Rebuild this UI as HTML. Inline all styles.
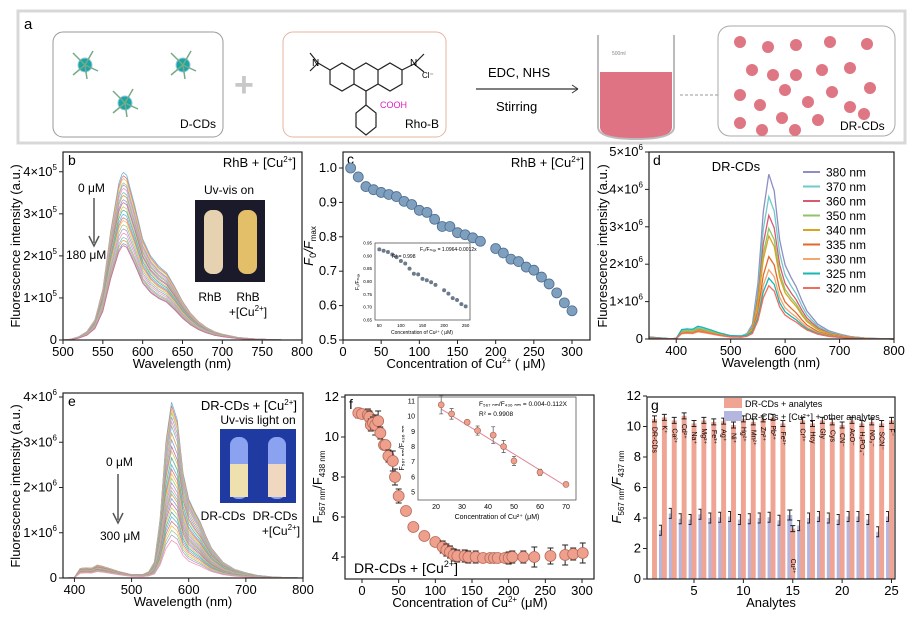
<!DOCTYPE html>
<html><head><meta charset="utf-8"><style>
body{margin:0;background:#fff;}
svg{display:block;font-family:"Liberation Sans",Arial,sans-serif;}
</style></head><body>
<svg id="fig" width="911" height="621" viewBox="0 0 911 621" xmlns="http://www.w3.org/2000/svg">
<!-- Panel a -->
<g>
<rect x="18" y="11" width="887" height="132" fill="#fff" stroke="#d8d8d8" stroke-width="3"/>
<text x="24" y="29" font-size="15">a</text>
<rect x="53" y="32" width="170" height="105" rx="10" fill="#fff" stroke="#999"/>
<g fill="#1aa6a6" stroke="#9cd" stroke-width="1">
<circle cx="85" cy="65" r="7"/><circle cx="183" cy="65" r="7"/><circle cx="125" cy="103" r="7"/></g>
<g stroke="#7a8" stroke-width="1.5">
<path d="M85 65 l-12 -12 M85 65 l8 -14 M85 65 l13 6 M85 65 l-12 10 M85 65 l2 14"/>
<path d="M183 65 l-12 -12 M183 65 l8 -14 M183 65 l13 6 M183 65 l-12 10 M183 65 l2 14"/>
<path d="M125 103 l-12 -12 M125 103 l8 -14 M125 103 l13 6 M125 103 l-12 10 M125 103 l2 14"/></g>
<text x="180" y="128" font-size="12">D-CDs</text>
<text x="234" y="96" font-size="34" fill="#c8c8c8" font-weight="bold">+</text>
<rect x="283" y="32" width="163" height="105" rx="10" fill="#fff" stroke="#e5b59f"/>
<g fill="none" stroke="#222" stroke-width="1.2">
<path d="M330 70 l12 -7 l12 7 l0 14 l-12 7 l-12 -7z M354 70 l12 -7 l12 7 l0 14 l-12 7 l-12 -7z M378 70 l12 -7 l12 7 l0 14 l-12 7 l-12 -7z"/>
<path d="M318 63 l12 7 M318 63 l-8 -10 M318 63 l-8 8 M402 70 l12 -6 l10 -10 M414 64 l10 8"/>
<path d="M366 91 l0 14 M366 105 l-10 8 l0 14 l10 8 l10 -8 l0 -14z"/></g>
<text x="312" y="66" font-size="10">N</text><text x="410" y="66" font-size="10">N</text><text x="422" y="78" font-size="8">Cl⁻</text>
<text x="380" y="108" font-size="9" fill="#e020c0">COOH</text>
<text x="405" y="128" font-size="12">Rho-B</text>
<text x="488" y="77" font-size="13">EDC, NHS</text>
<line x1="476" y1="89" x2="578" y2="89" stroke="#333" stroke-width="1.2"/><path d="M578 89 l-6 -4 M578 89 l-6 4" stroke="#333"/>
<text x="496" y="111" font-size="13">Stirring</text>
<path d="M600 72 l0 55 q0 12 36 12 q36 0 36 -12 l0 -55z" fill="#dc6477" opacity="0.9"/>
<path d="M598 35 l0 92 q0 12 38 12 q38 0 38 -12 l0 -92" fill="none" stroke="#bbb" stroke-width="2"/>
<text x="612" y="55" font-size="5" fill="#888">500ml</text>
<line x1="680" y1="95" x2="718" y2="95" stroke="#999" stroke-dasharray="3,2"/>
<rect x="718" y="26" width="177" height="110" rx="12" fill="#fff" stroke="#aaa"/>
<g fill="#df7683">
<circle cx="740" cy="42" r="6"/><circle cx="768" cy="47" r="6"/><circle cx="796" cy="45" r="6"/><circle cx="830" cy="42" r="6"/><circle cx="867" cy="44" r="6"/>
<circle cx="752" cy="70" r="6"/><circle cx="773" cy="75" r="6"/><circle cx="796" cy="75" r="6"/><circle cx="822" cy="70" r="6"/><circle cx="850" cy="68" r="6"/>
<circle cx="740" cy="95" r="6"/><circle cx="785" cy="90" r="6"/><circle cx="832" cy="92" r="6"/><circle cx="870" cy="88" r="6"/><circle cx="760" cy="105" r="6"/><circle cx="808" cy="102" r="6"/><circle cx="850" cy="107" r="6"/>
<circle cx="740" cy="123" r="6"/><circle cx="782" cy="118" r="6"/><circle cx="818" cy="120" r="6"/><circle cx="864" cy="114" r="6"/><circle cx="762" cy="130" r="6"/><circle cx="795" cy="130" r="6"/></g>
<text x="840" y="130" font-size="12">DR-CDs</text>
</g>
<g id="plots"></g>
</svg>
<script>
// ---------- DATA ----------
const bWave=[500,510,520,530,540,550,560,570,575,580,590,600,610,620,630,640,650,660,670,680,690,700,720,740,760,780,800];
const bProfile=[0,0.005,0.02,0.05,0.12,0.3,0.65,0.93,1.0,0.98,0.8,0.6,0.5,0.44,0.4,0.32,0.23,0.16,0.11,0.075,0.05,0.035,0.015,0.007,0.003,0,0];
const bPeaks=[4.0,3.92,3.85,3.75,3.7,3.62,3.52,3.45,3.35,3.28,3.18,3.1,3.0,2.92,2.85,2.75,2.65,2.55,2.45,2.38,2.3,2.25];
const cConc=[10,20,30,40,50,60,70,80,90,100,110,120,130,140,150,160,170,180,200,210,220,230,240,250,260,270,280,290,300];
const cRatio=[1.0,0.974,0.946,0.937,0.929,0.923,0.917,0.903,0.894,0.877,0.871,0.851,0.83,0.83,0.812,0.806,0.797,0.787,0.766,0.753,0.735,0.728,0.712,0.703,0.683,0.663,0.637,0.608,0.585];
const cInsetConc=[50,60,70,80,90,100,110,120,130,140,150,160,170,180,200,210,220,230,240,250];
const cInsetRatio=[0.925,0.92,0.915,0.905,0.895,0.88,0.87,0.85,0.83,0.828,0.81,0.805,0.797,0.787,0.766,0.753,0.735,0.728,0.712,0.703];
const dWave=[350,390,400,410,420,430,440,450,460,480,500,520,530,540,550,560,570,580,590,600,610,620,630,640,660,680,700,720,750,800];
const dPeakProfile=[0,0,0,0,0,0,0,0,0,0,0,0.005,0.02,0.08,0.33,0.77,1.0,0.9,0.6,0.45,0.38,0.32,0.24,0.17,0.09,0.05,0.03,0.015,0.005,0];
const dBlueProfile=[0.15,0.02,0.05,0.7,0.75,0.72,0.95,0.85,0.72,0.45,0.25,0.2,0.2,0.15,0.1,0.05,0.02,0.01,0,0,0,0,0,0,0,0,0,0,0,0];
const dLabels=["380 nm","370 nm","360 nm","350 nm","340 nm","335 nm","330 nm","325 nm","320 nm"];
const dPeaks=[4.4,3.8,3.3,2.95,2.75,2.2,1.85,1.62,1.42];
const dBlue=[0.3,0.32,0.28,0.3,0.25,0.22,0.2,0.36,0.22];
const dColors=["#8e8ec4","#6fcaca","#d85a70","#8cc66b","#d9a520","#e2692a","#f3a66e","#1ab5b5","#f26b5b"];
const ePeaks=[3.88,3.8,3.72,3.65,3.55,3.45,3.35,3.2,3.05,2.9,2.8,2.65,2.5,2.4,2.3,2.2,2.1,2.0,1.92,1.85,1.75,1.65,1.55,1.45,1.35,1.25,1.15,1.05,0.95,0.83];
const eBlue=[0.3,0.3,0.29,0.29,0.28,0.28,0.27,0.27,0.26,0.26,0.25,0.25,0.24,0.24,0.23,0.23,0.22,0.22,0.21,0.21,0.2,0.2,0.19,0.19,0.18,0.18,0.17,0.17,0.16,0.15];
const fConc=[-5,0,8,10,12,15,18,22,25,30,32,36,42,45,50,60,70,85,100,110,115,120,125,130,140,145,155,165,175,180,185,195,200,205,220,235,257,277,288,301];
const fRatio=[11.2,11.15,11.1,11.0,10.6,10.7,10.6,10.8,10.2,9.6,9.6,9.05,8.8,8.0,7.05,6.3,5.5,5.05,4.75,4.5,4.35,4.25,4.1,4.05,4.05,4.0,4.0,3.95,3.95,3.95,3.95,3.95,3.95,4.0,4.0,4.0,4.05,4.1,4.15,4.2];
const fErr=[0.25,0.2,0.3,0.3,0.3,0.3,0.5,0.5,0.3,0.1,0.1,0.3,0.5,0.4,0.35,0.15,0.2,0.1,0.1,0.3,0.3,0.3,0.3,0.3,0.3,0.3,0.3,0.2,0.1,0.1,0.1,0.2,0.3,0.3,0.3,0.5,0.4,0.5,0.3,0.5];
const fiConc=[22,26,32,36,42,46,50,60,70];
const fiRatio=[10.75,10.15,9.6,9.05,8.75,8.0,7.05,6.3,5.5];
const fiErr=[0.6,0.35,0.1,0.3,0.55,0.4,0.3,0.2,0.15];
const gPink=[10.5,10.6,10.4,10.7,10.2,10.4,10.3,10.35,10.1,10.5,10.3,10.5,10.6,10.2,3.3,10.4,10.2,10.4,10.3,10.1,10.4,10.2,10.3,10.2,10.4];
const gBlue=[3.2,4.3,3.95,3.9,4.25,4.0,4.05,4.1,3.9,3.95,4.0,4.05,3.85,4.2,3.5,4.0,4.1,4.0,3.9,4.1,4.1,3.9,3.1,4.1];
const gLabels=["DR-CDs","K⁺","Ca²⁺","Cd²⁺","Na⁺","Mg²⁺","Fe³⁺","Ag⁺","Ni⁺","Hg²⁺","Mn²⁺","Zn²⁺","Pb²⁺","Fe²⁺","Cu²⁺","Cr³⁺","Hcy","Gly","Cys","CN⁻","AcO⁻","H₂PO₄⁻","NO₃⁻","SCN⁻","F⁻"];
const specColors=["#6ab7e0","#e07a7a","#f0c060","#9ad08a","#b79ad6","#f09ab0","#70c8c8","#e0a050","#8aa0e0","#d07090","#c0d070","#60b0a0"];

// ---------- HELPERS ----------
const NS="http://www.w3.org/2000/svg";
const root=document.getElementById('plots');
function mk(tag,attrs,parent,text){const e=document.createElementNS(NS,tag);for(const k in attrs)e.setAttribute(k,attrs[k]);if(text!==undefined)e.textContent=text;(parent||root).appendChild(e);return e;}
function lin(d0,d1,r0,r1){return v=>r0+(v-d0)*(r1-r0)/(d1-d0);}
function interp(xs,ys,x){if(x<=xs[0])return ys[0];for(let i=1;i<xs.length;i++){if(x<=xs[i]){const t=(x-xs[i-1])/(xs[i]-xs[i-1]);return ys[i-1]+t*(ys[i]-ys[i-1]);}}return ys[ys.length-1];}
function frame(g,x0,y0,x1,y1){mk('rect',{x:x0,y:y0,width:x1-x0,height:y1-y0,fill:'none',stroke:'#222','stroke-width':1.2},g);}
function xticks(g,vals,sx,y1,fs,minor){vals.forEach(v=>{const x=sx(v);mk('line',{x1:x,y1:y1,x2:x,y2:y1+4,stroke:'#222'},g);const t=mk('text',{x:x,y:y1+16,'font-size':fs||13,'text-anchor':'middle'},g,String(v));});}
function yticks(g,vals,labels,sy,x0,fs){vals.forEach((v,i)=>{const y=sy(v);mk('line',{x1:x0-4,y1:y,x2:x0,y2:y,stroke:'#222'},g);const t=mk('text',{x:x0-6,y:y+4,'font-size':fs||13,'text-anchor':'end'},g);
 const L=labels[i];if(typeof L==='string'){t.textContent=L;}else{t.textContent=L[0]+'×10';mk('tspan',{'font-size':8,dy:-6},t,L[1]);}});}
function pathFrom(pts){return 'M'+pts.map(p=>p[0].toFixed(1)+' '+p[1].toFixed(1)).join(' L');}

// ---------- PANEL B ----------
(function(){
const g=mk('g',{});
const sx=lin(500,800,63,302), sy=lin(0,4.47,340,152);
const clip=mk('clipPath',{id:'cb'},g);mk('rect',{x:63,y:152,width:239,height:188},clip);
const cg=mk('g',{'clip-path':'url(#cb)'},g);
bPeaks.forEach((p,i)=>{const pts=[];for(let w=500;w<=800;w+=2)pts.push([sx(w),sy(p*interp(bWave,bProfile,w))]);
 const e=mk('path',{d:pathFrom(pts),fill:'none',stroke:specColors[i%specColors.length],'stroke-width':0.8},cg);
 });
frame(g,63,152,302,340);
xticks(g,[500,550,600,650,700,750,800],sx,340);
yticks(g,[0,1,2,3,4],['0',['1','5'],['2','5'],['3','5'],['4','5']],sy,63);
mk('text',{x:182,y:368,'font-size':13,'text-anchor':'middle'},g,'Wavelength (nm)');
mk('text',{x:0,y:0,'font-size':13,'text-anchor':'middle',transform:'translate(20,246) rotate(-90)'},g,'Fluorescence intensity (a.u.)');
mk('text',{x:68,y:165,'font-size':14},g,'b');
const t=mk('text',{x:296,y:167,'font-size':13,'text-anchor':'end'},g,'RhB + [Cu');mk('tspan',{'font-size':8,dy:-5},t,'2+');mk('tspan',{dy:5},t,']');
mk('text',{x:78,y:192,'font-size':12},g,'0 μM');
mk('line',{x1:94,y1:198,x2:94,y2:243,stroke:'#555','stroke-width':1.5},g);mk('path',{d:'M89 236 L94 246 L99 236',fill:'none',stroke:'#555','stroke-width':1.5},g);
mk('text',{x:66,y:259,'font-size':12},g,'180 μM');
mk('text',{x:229,y:194,'font-size':12,'text-anchor':'middle'},g,'Uv-vis on');
const ph=mk('g',{},g);
mk('rect',{x:195,y:200,width:70,height:82,fill:'#1a1a2a'},ph);
mk('rect',{x:204,y:210,width:19,height:64,rx:8,fill:'#e6d2b0'},ph);mk('rect',{x:238,y:210,width:19,height:64,rx:8,fill:'#e3bf6a'},ph);
mk('text',{x:210,y:301,'font-size':12,'text-anchor':'middle'},g,'RhB');
mk('text',{x:248,y:301,'font-size':12,'text-anchor':'middle'},g,'RhB');
const t2=mk('text',{x:248,y:316,'font-size':12,'text-anchor':'middle'},g,'+[Cu');mk('tspan',{'font-size':8,dy:-5},t2,'2+');mk('tspan',{dy:5},t2,']');
})();

// ---------- PANEL C ----------
(function(){
const g=mk('g',{});
const sx=lin(0,300,343,572), sy=lin(0.5,1.0,340,168);
frame(g,343,152,590,340);
xticks(g,[0,50,100,150,200,250,300],sx,340);
yticks(g,[0.5,0.6,0.7,0.8,0.9,1.0],['0.5','0.6','0.7','0.8','0.9','1.0'],sy,343);
const xt=mk('text',{x:466,y:368,'font-size':13,'text-anchor':'middle'},g,'Concentration of Cu');mk('tspan',{'font-size':8,dy:-5},xt,'2+');mk('tspan',{dy:5},xt,' ( μM)');
const yt=mk('text',{'font-size':13,'text-anchor':'middle',transform:'translate(313,246) rotate(-90)'},g);mk('tspan',{'font-style':'italic'},yt,'F');mk('tspan',{'font-size':9,dy:3},yt,'0');mk('tspan',{dy:-3,'font-style':'italic'},yt,'/F');mk('tspan',{'font-size':8,dy:3},yt,'max');
mk('text',{x:347,y:164,'font-size':14},g,'c');
const t=mk('text',{x:584,y:167,'font-size':13,'text-anchor':'end'},g,'RhB + [Cu');mk('tspan',{'font-size':8,dy:-5},t,'2+');mk('tspan',{dy:5},t,']');
cConc.forEach((c,i)=>{const e=mk('circle',{cx:sx(c),cy:sy(cRatio[i]),r:5,fill:'#7f9fbf',stroke:'#4d6e90','stroke-width':0.8},g);});
// inset
const ix=lin(40,260,375,470), iy=lin(0.65,0.95,320,243);
const ig=mk('g',{},g);
mk('rect',{x:375,y:243,width:95,height:77,fill:'#fff',stroke:'#555','stroke-width':0.8},ig);
cInsetConc.forEach((c,i)=>{const e=mk('circle',{cx:ix(c),cy:iy(cInsetRatio[i]),r:2,fill:'#6c7a8c'},ig);});
[50,100,150,200,250].forEach(v=>mk('text',{x:ix(v),y:327,'font-size':4.5,'text-anchor':'middle'},ig,String(v)));
[0.65,0.7,0.75,0.8,0.85,0.9,0.95].forEach(v=>mk('text',{x:372,y:iy(v)+1.5,'font-size':4.5,'text-anchor':'end'},ig,v.toFixed(2)));
mk('text',{x:422,y:334,'font-size':5,'text-anchor':'middle'},ig,'Concentration of Cu²⁺ ( μM)');
mk('text',{x:420,y:251,'font-size':5},ig,'F₀/Fₘₐₓ = 1.0964-0.0012x');
mk('text',{x:392,y:258,'font-size':5},ig,'R² = 0.998');
mk('text',{'font-size':5,transform:'translate(359,290) rotate(-90)'},ig,'F₀/Fₘₐₓ');
})();

// ---------- PANEL D ----------
(function(){
const g=mk('g',{});
const sx=lin(350,800,649,894), sy=lin(0,5,339,152);
dPeaks.forEach((p,i)=>{const pts=[];for(let w=350;w<=800;w+=2)pts.push([sx(w),sy(p*interp(dWave,dPeakProfile,w)+dBlue[i]*interp(dWave,dBlueProfile,w))]);
 const e=mk('path',{d:pathFrom(pts),fill:'none',stroke:dColors[i],'stroke-width':1.3},g);});
frame(g,649,152,894,339);
xticks(g,[400,500,600,700,800],sx,339);
yticks(g,[0,1,2,3,4,5],['0',['1','6'],['2','6'],['3','6'],['4','6'],['5','6']],sy,649);
mk('text',{x:771,y:367,'font-size':13,'text-anchor':'middle'},g,'Wavelength (nm)');
mk('text',{'font-size':13,'text-anchor':'middle',transform:'translate(607,246) rotate(-90)'},g,'Fluorescence intensity (a.u.)');
mk('text',{x:653,y:165,'font-size':14},g,'d');
mk('text',{x:736,y:171,'font-size':13,'text-anchor':'middle'},g,'DR-CDs');
dLabels.forEach((l,i)=>{const y=172+i*14.5;const lg=mk('g',{},g);
 mk('line',{x1:803,y1:y,x2:820,y2:y,stroke:dColors[i],'stroke-width':2},lg);mk('text',{x:826,y:y+4.5,'font-size':12},lg,l);});
})();

// ---------- PANEL E ----------
(function(){
const g=mk('g',{});
const sx=lin(380,800,63,303), sy=lin(0,4,578,397);
ePeaks.forEach((p,i)=>{const pts=[];for(let w=390;w<=800;w+=2)pts.push([sx(w),sy(p*interp(dWave,dPeakProfile,w)+eBlue[i]*interp(dWave,dBlueProfile,w))]);
 const e=mk('path',{d:pathFrom(pts),fill:'none',stroke:specColors[i%specColors.length],'stroke-width':0.8},g);});
frame(g,63,393,303,578);
xticks(g,[400,500,600,700,800],sx,578);
yticks(g,[0,1,2,3,4],['0',['1','6'],['2','6'],['3','6'],['4','6']],sy,63);
mk('text',{x:183,y:606,'font-size':13,'text-anchor':'middle'},g,'Wavelength (nm)');
mk('text',{'font-size':13,'text-anchor':'middle',transform:'translate(20,486) rotate(-90)'},g,'Fluorescence intensity (a.u.)');
mk('text',{x:68,y:406,'font-size':14},g,'e');
const t=mk('text',{x:297,y:410,'font-size':13,'text-anchor':'end'},g,'DR-CDs + [Cu');mk('tspan',{'font-size':8,dy:-5},t,'2+');mk('tspan',{dy:5},t,']');
mk('text',{x:106,y:466,'font-size':12},g,'0 μM');
mk('line',{x1:118,y1:474,x2:118,y2:520,stroke:'#555','stroke-width':1.5},g);mk('path',{d:'M113 513 L118 523 L123 513',fill:'none',stroke:'#555','stroke-width':1.5},g);
mk('text',{x:100,y:540,'font-size':12},g,'300 μM');
mk('text',{x:258,y:424,'font-size':12,'text-anchor':'middle'},g,'Uv-vis light on');
const ph=mk('g',{},g);
mk('rect',{x:220,y:429,width:76,height:74,fill:'#1f3aa0'},ph);
mk('rect',{x:230,y:437,width:18,height:62,rx:8,fill:'#8aa2f0'},ph);mk('rect',{x:268,y:437,width:18,height:62,rx:8,fill:'#8aa2f0'},ph);
mk('rect',{x:230,y:464,width:18,height:33,fill:'#efe0b0'},ph);mk('rect',{x:268,y:464,width:18,height:33,fill:'#f0d8c0'},ph);
mk('text',{x:223,y:520,'font-size':12,'text-anchor':'middle'},g,'DR-CDs');
mk('text',{x:275,y:520,'font-size':12,'text-anchor':'middle'},g,'DR-CDs');
const t2=mk('text',{x:281,y:535,'font-size':12,'text-anchor':'middle'},g,'+[Cu');mk('tspan',{'font-size':8,dy:-5},t2,'2+');mk('tspan',{dy:5},t2,']');
})();

// ---------- PANEL F ----------
(function(){
const g=mk('g',{});
const sx=lin(0,300,362,582), sy=lin(4,12,557,397);
frame(g,345,395,594,579);
xticks(g,[0,50,100,150,200,250,300],sx,579);
yticks(g,[4,6,8,10,12],['4','6','8','10','12'],sy,345);
const xt=mk('text',{x:470,y:607,'font-size':13,'text-anchor':'middle'},g,'Concentration of Cu');mk('tspan',{'font-size':8,dy:-5},xt,'2+');mk('tspan',{dy:5},xt,' (μM)');
const yt=mk('text',{'font-size':13,'text-anchor':'middle',transform:'translate(322,487) rotate(-90)'},g,'F');mk('tspan',{'font-size':8,dy:3},yt,'567 nm');mk('tspan',{dy:-3},yt,'/F');mk('tspan',{'font-size':8,dy:3},yt,'438 nm');
mk('text',{x:349,y:409,'font-size':14},g,'f');
fConc.forEach((c,i)=>{const x=sx(c),y=sy(fRatio[i]),e=sy(fRatio[i]+fErr[i])-y;
 mk('path',{d:`M${x} ${y-Math.abs(e)} L${x} ${y+Math.abs(e)} M${x-3} ${y-Math.abs(e)} L${x+3} ${y-Math.abs(e)} M${x-3} ${y+Math.abs(e)} L${x+3} ${y+Math.abs(e)}`,stroke:'#222','stroke-width':1},g);
 const p=mk('circle',{cx:x,cy:y,r:5.5,fill:'#efa08c',stroke:'#b56a5a','stroke-width':0.8},g);});
const t=mk('text',{x:354,y:573,'font-size':14},g,'DR-CDs + [Cu');mk('tspan',{'font-size':9,dy:-6},t,'2+');mk('tspan',{dy:6},t,']');
// inset
const ig=mk('g',{},g);
const ix=lin(20,70,436,566), iy=lin(5,11,492,401);
mk('rect',{x:418,y:397,width:158,height:103,fill:'#fff',stroke:'#555','stroke-width':0.8},ig);
mk('line',{x1:ix(22),y1:iy(10.468),x2:ix(70),y2:iy(5.38),stroke:'#e08a9a','stroke-width':1},ig);
fiConc.forEach((c,i)=>{const x=ix(c),y=iy(fiRatio[i]),e=iy(fiRatio[i]+fiErr[i])-y;
 mk('path',{d:`M${x} ${y+e} L${x} ${y-e} M${x-2} ${y+e} L${x+2} ${y+e} M${x-2} ${y-e} L${x+2} ${y-e}`,stroke:'#666','stroke-width':0.8},ig);
 const p=mk('circle',{cx:x,cy:y,r:3,fill:'#efa08c',stroke:'#a06050','stroke-width':0.6},ig);});
[20,30,40,50,60,70].forEach(v=>mk('text',{x:ix(v),y:509,'font-size':7,'text-anchor':'middle'},ig,String(v)));
[5,6,7,8,9,10,11].forEach(v=>mk('text',{x:415,y:iy(v)+2.5,'font-size':7,'text-anchor':'end'},ig,String(v)));
mk('text',{x:497,y:519,'font-size':7,'text-anchor':'middle'},ig,'Concentration of Cu²⁺ (μM)');
mk('text',{'font-size':7,'text-anchor':'middle',transform:'translate(404,448) rotate(-90)'},ig,'F₅₆₇ ₙₘ/F₄₃₆ ₙₘ');
mk('text',{x:479,y:406,'font-size':6.5},ig,'F₅₆₇ ₙₘ/F₄₃₆ ₙₘ = 0.004-0.112X');
mk('text',{x:479,y:416,'font-size':6.5},ig,'R² = 0.9908');
})();

// ---------- PANEL G ----------
(function(){
const g=mk('g',{});
const sx=lin(1,25,654.5,891.5), sy=lin(0,12,579,396);
const bw=9.87*0.5;
gBlue.forEach((v,i)=>{const c=i+1.7;const b=mk('rect',{x:sx(c)-bw/2,y:sy(v),width:bw,height:sy(0)-sy(v),fill:'#b3b7e0'},g);
 const y=sy(v),e=5;mk('path',{d:`M${sx(c)} ${y-e} L${sx(c)} ${y+e} M${sx(c)-2.5} ${y-e} L${sx(c)+2.5} ${y-e} M${sx(c)-2.5} ${y+e} L${sx(c)+2.5} ${y+e}`,stroke:'#222'},g);});
gPink.forEach((v,i)=>{const c=i+1;const b=mk('rect',{x:sx(c)-bw/2,y:sy(v),width:bw,height:sy(0)-sy(v),fill:'#f0a594'},g);
 const y=sy(v),e=3;mk('path',{d:`M${sx(c)} ${y-e} L${sx(c)} ${y+e} M${sx(c)-2.5} ${y-e} L${sx(c)+2.5} ${y-e} M${sx(c)-2.5} ${y+e} L${sx(c)+2.5} ${y+e}`,stroke:'#222'},g);
 const lx=sx(c), ly=(i===14)?sy(v)+30:sy(v)+8;mk('text',{x:0,y:0,'font-size':7,transform:`translate(${lx-2},${ly}) rotate(90)`},g,gLabels[i]);});
frame(g,647,397,895,579);
xticks(g,[5,10,15,20,25],sx,579);
yticks(g,[0,2,4,6,8,10,12],['0','2','4','6','8','10','12'],sy,647);
mk('text',{x:771,y:607,'font-size':13,'text-anchor':'middle'},g,'Analytes');
const yt=mk('text',{'font-size':13,'text-anchor':'middle',transform:'translate(621,487) rotate(-90)'},g);mk('tspan',{'font-style':'italic'},yt,'F');mk('tspan',{'font-size':8,dy:3},yt,'567 nm');mk('tspan',{dy:-3,'font-style':'italic'},yt,'/F');mk('tspan',{'font-size':8,dy:3},yt,'437 nm');
mk('text',{x:651,y:410,'font-size':14},g,'g');
const l1=mk('g',{},g);
mk('rect',{x:724,y:398,width:18,height:10,fill:'#f0a594'},l1);mk('text',{x:745,y:407,'font-size':9},l1,'DR-CDs + analytes');
const l2=mk('g',{},g);
mk('rect',{x:724,y:411,width:18,height:10,fill:'#b3b7e0'},l2);mk('text',{x:745,y:420,'font-size':9},l2,'DR-CDs + [Cu²⁺] + other analytes');
})();
</script>
</body></html>
